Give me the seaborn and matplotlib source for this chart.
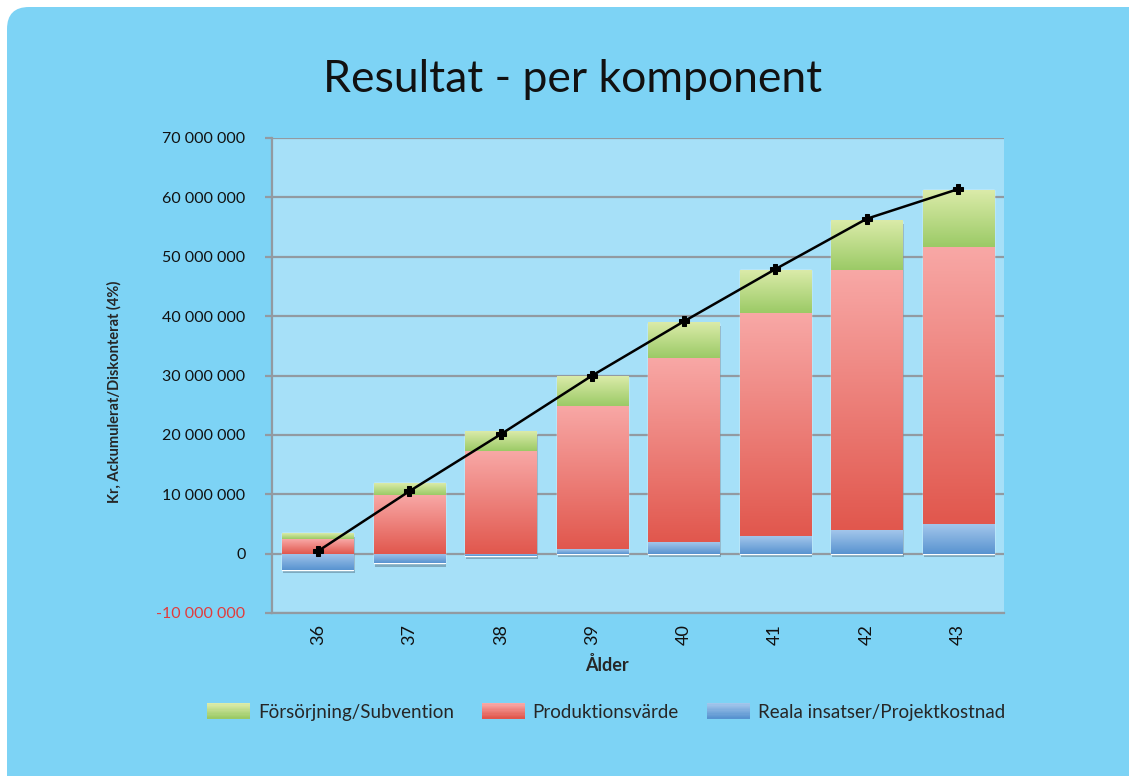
import numpy as np
import matplotlib
matplotlib.use("Agg")
import matplotlib.pyplot as plt
import matplotlib.patheffects as pe
from matplotlib.colors import LinearSegmentedColormap
from matplotlib.patches import FancyBboxPatch, Rectangle
from matplotlib.legend_handler import HandlerBase
from matplotlib.ticker import FuncFormatter
import seaborn as sns

ages = ["36", "37", "38", "39", "40", "41", "42", "43"]
# component values in kr
reala = [-2.7e6, -1.6e6, -0.4e6, 0.8e6, 2.0e6, 3.0e6, 4.0e6, 5.0e6]
produktion = [2.4e6, 9.9e6, 17.2e6, 24.1e6, 31.0e6, 37.5e6, 43.8e6, 46.7e6]
forsorjning = [1.0e6, 2.0e6, 3.3e6, 4.9e6, 5.9e6, 7.2e6, 8.3e6, 9.55e6]
netto = [0.4e6, 10.5e6, 20.1e6, 30.0e6, 39.1e6, 47.9e6, 56.4e6, 61.4e6]

series_names = ["Försörjning/Subvention", "Produktionsvärde", "Reala insatser/Projektkostnad"]
grad = {
    "green": ("#dbeba9", "#9bca66"),
    "red": ("#f8a8a6", "#e1574d"),
    "blue": ("#a3c6eb", "#5893d0"),
}

sns.set_style("white")
plt.rcParams["font.family"] = ["Lato", "DejaVu Sans"]

fig = plt.figure(figsize=(11.29, 7.76), dpi=100)
fig.patch.set_facecolor("white")
bg = FancyBboxPatch((0.07, -0.3), 11.6, 7.99, boxstyle="round,pad=0,rounding_size=0.22",
                    transform=fig.dpi_scale_trans, facecolor="#7dd3f5", edgecolor="none", zorder=-10)
fig.patches.append(bg)

ax = fig.add_axes([272 / 1129, 1 - 613 / 776, 732 / 1129, 475 / 776])
ax.set_facecolor("#a6e0f8")

pos = np.arange(len(ages))
width = 0.78


def gradient_rect(x0, x1, y0, y1, colors):
    if y1 == y0:
        return
    cmap = LinearSegmentedColormap.from_list("g", list(colors))
    arr = np.linspace(0, 1, 256).reshape(-1, 1)
    lo, hi = min(y0, y1), max(y0, y1)
    ax.imshow(arr, cmap=cmap, extent=[x0, x1, lo, hi], origin="upper",
              aspect="auto", zorder=3, interpolation="nearest")


reala_a = np.array(reala)
prod_bottom = np.where(reala_a > 0, reala_a, 0)
green_bottom = prod_bottom + np.array(produktion)
stack_top = green_bottom + np.array(forsorjning)
stack_bottom = np.where(reala_a < 0, reala_a, 0)

# base bars carrying a soft drop shadow
ax.bar(pos, stack_top - stack_bottom, bottom=stack_bottom, width=width, color="#7a9ab8",
       zorder=2, path_effects=[pe.SimplePatchShadow(offset=(1, -2.5), shadow_rgbFace="#203040", alpha=0.3),
                               pe.Normal()])

for i in pos:
    x0, x1 = i - width / 2, i + width / 2
    gradient_rect(x0, x1, 0, reala[i], grad["blue"])
    gradient_rect(x0, x1, prod_bottom[i], green_bottom[i], grad["red"])
    gradient_rect(x0, x1, green_bottom[i], stack_top[i], grad["green"])

sns.lineplot(x=pos, y=netto, ax=ax, color="black", lw=1.8, marker="P", markersize=7,
             markeredgecolor="black", zorder=5)

ax.set_xlim(-0.5, len(ages) - 0.5)
ax.set_ylim(-10e6, 70e6)
ax.set_yticks(np.arange(-10e6, 70e6 + 1, 10e6))
ax.yaxis.set_major_formatter(FuncFormatter(lambda v, p: f"{int(v):,}".replace(",", " ")))
ax.grid(axis="y", color="#929aa1", lw=1.6, zorder=1)
ax.grid(axis="x", visible=False)
ax.set_axisbelow(True)

ax.set_xticks(pos)
ax.set_xticklabels(ages, rotation=90)
ax.set_xticks(np.arange(-0.5, len(ages), 1), minor=True)
ax.tick_params(axis="x", which="major", length=0, pad=8, labelsize=13, colors="#111111")
ax.tick_params(axis="x", which="minor", length=5, width=1.6, color="#929aa1")
ax.tick_params(axis="y", length=5, width=1.6, color="#929aa1", pad=14, labelsize=11.5,
               labelcolor="#111111", left=True)
for lab in ax.get_yticklabels():
    if lab.get_text().startswith("-"):
        lab.set_color("#e23b3b")

for s in ["top", "right"]:
    ax.spines[s].set_visible(False)
for s in ["left", "bottom"]:
    ax.spines[s].set_color("#929aa1")
    ax.spines[s].set_linewidth(1.6)

ax.set_xlabel("Ålder", fontsize=13, fontweight="bold")
ax.xaxis.set_label_coords(0.458, -0.09)
ax.set_ylabel("Kr, Ackumulerat/Diskonterat (4%)", fontsize=10.5, fontweight="bold")
ax.yaxis.set_label_coords(-0.205, 0.465)

fig.text(573 / 1129, 1 - 80 / 776, "Resultat - per komponent", fontsize=32,
         ha="center", va="center", color="#111111")


class GradientHandler(HandlerBase):
    def create_artists(self, legend, orig_handle, xdescent, ydescent, width, height, fontsize, trans):
        top, bot = orig_handle.colors
        cmap = LinearSegmentedColormap.from_list("h", [top, bot])
        n = 12
        arts = []
        for k in range(n):
            r = Rectangle((-xdescent, -ydescent + height * (n - 1 - k) / n), width, height / n + 0.3,
                          facecolor=cmap(k / (n - 1)), edgecolor="none", transform=trans)
            arts.append(r)
        return arts


class GradHandle:
    def __init__(self, colors):
        self.colors = colors


handles = [GradHandle(grad["green"]), GradHandle(grad["red"]), GradHandle(grad["blue"])]
fig.legend(handles, series_names, handler_map={GradHandle: GradientHandler()},
           loc="center", bbox_to_anchor=(606 / 1129, 1 - 712 / 776), ncol=3, frameon=False,
           fontsize=13.5, handlelength=2.3, handleheight=0.9, handletextpad=0.4, columnspacing=1.5)

fig.savefig("out.png", dpi=100)
